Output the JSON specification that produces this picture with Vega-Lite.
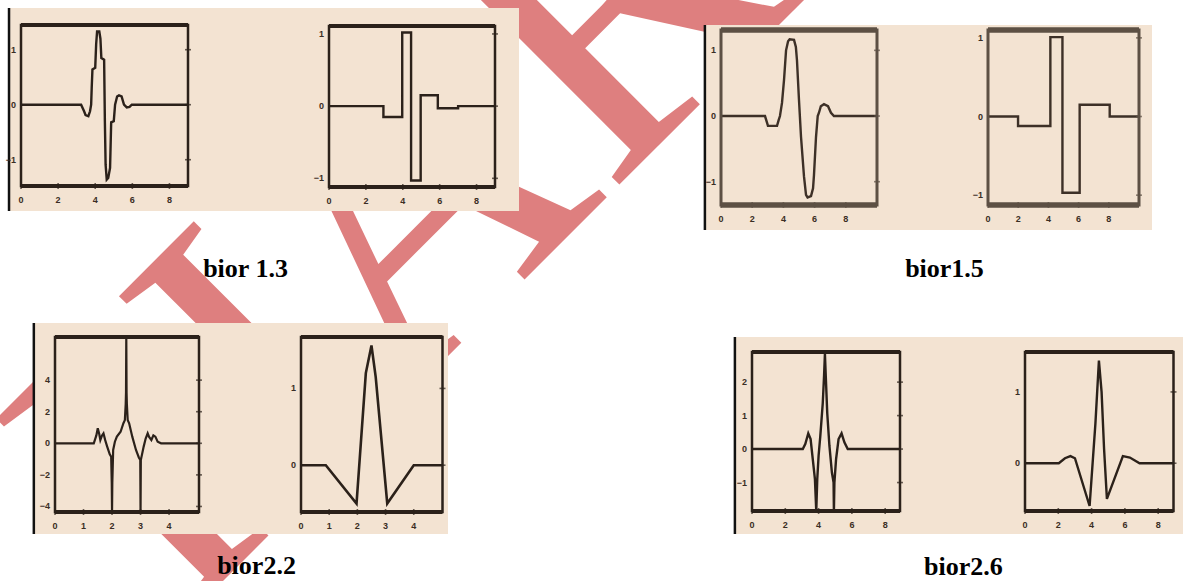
{
  "$schema": "https://vega.github.io/schema/vega-lite/v6.json",
  "width": 1183,
  "height": 581,
  "autosize": {"type": "none"},
  "padding": 0,
  "background": "#ffffff",
  "config": {
    "view": {"stroke": null},
    "text": {"font": "Liberation Sans", "fontSize": 9, "fontWeight": "bold", "color": "#3a2d24"},
    "tick": {"color": "#2b211a", "thickness": 1.6, "size": 6}
  },
  "resolve": {"scale": {"x": "independent", "y": "independent"}},
  "datasets": {
    "xe": [{"v":0},{"v":2},{"v":4},{"v":6},{"v":8}],
    "xi": [{"v":0},{"v":1},{"v":2},{"v":3},{"v":4}],
    "y101": [{"v":-1},{"v":0},{"v":1}],
    "yc1": [{"v":-4},{"v":-2},{"v":0},{"v":2},{"v":4}],
    "y01": [{"v":0},{"v":1}],
    "yd1": [{"v":-1},{"v":0},{"v":1},{"v":2}],
    "a1": [{"t":0,"psi":0},{"t":3.24,"psi":0},{"t":3.4,"psi":-0.12},{"t":3.48,"psi":-0.19},{"t":3.63,"psi":-0.21},{"t":3.72,"psi":-0.12},{"t":3.78,"psi":0},{"t":3.81,"psi":0.3},{"t":3.85,"psi":0.64},{"t":4.0,"psi":0.67},{"t":4.05,"psi":1.1},{"t":4.1,"psi":1.33},{"t":4.22,"psi":1.33},{"t":4.28,"psi":1.2},{"t":4.33,"psi":0.85},{"t":4.48,"psi":0.82},{"t":4.52,"psi":-0.3},{"t":4.56,"psi":-1.09},{"t":4.62,"psi":-1.36},{"t":4.7,"psi":-1.33},{"t":4.8,"psi":-1.15},{"t":4.86,"psi":-0.32},{"t":5.0,"psi":-0.3},{"t":5.07,"psi":0},{"t":5.18,"psi":0.15},{"t":5.28,"psi":0.17},{"t":5.42,"psi":0.15},{"t":5.55,"psi":0},{"t":5.7,"psi":-0.05},{"t":5.85,"psi":-0.04},{"t":5.97,"psi":0},{"t":9,"psi":0}],
    "a2": [{"t":0,"psi":0},{"t":2.95,"psi":-0.15},{"t":3.97,"psi":1.02},{"t":4.45,"psi":-1.03},{"t":4.97,"psi":0.15},{"t":5.9,"psi":-0.03},{"t":7.0,"psi":0},{"t":9,"psi":0}],
    "b1": [{"t":0,"psi":0},{"t":2.82,"psi":0},{"t":2.95,"psi":-0.1},{"t":3.01,"psi":-0.15},{"t":3.59,"psi":-0.15},{"t":3.7,"psi":-0.06},{"t":3.78,"psi":0},{"t":3.91,"psi":0.2},{"t":4.04,"psi":0.55},{"t":4.17,"psi":1.0},{"t":4.3,"psi":1.14},{"t":4.4,"psi":1.17},{"t":4.68,"psi":1.16},{"t":4.8,"psi":1.05},{"t":4.87,"psi":0.85},{"t":5.0,"psi":0.24},{"t":5.13,"psi":-0.32},{"t":5.32,"psi":-0.92},{"t":5.45,"psi":-1.2},{"t":5.55,"psi":-1.24},{"t":5.77,"psi":-1.22},{"t":5.9,"psi":-1.1},{"t":5.96,"psi":-0.9},{"t":6.09,"psi":-0.32},{"t":6.2,"psi":0},{"t":6.28,"psi":0.05},{"t":6.4,"psi":0.15},{"t":6.6,"psi":0.18},{"t":6.86,"psi":0.15},{"t":7.05,"psi":0.05},{"t":7.24,"psi":0},{"t":10,"psi":0}],
    "b2": [{"t":0,"psi":0},{"t":1.99,"psi":-0.12},{"t":4.13,"psi":1.01},{"t":4.93,"psi":-0.97},{"t":6.07,"psi":0.15},{"t":8.06,"psi":0},{"t":10,"psi":0}],
    "c1": [{"t":0,"psi":0},{"t":1.36,"psi":0},{"t":1.45,"psi":0.5},{"t":1.5,"psi":0.95},{"t":1.55,"psi":0.6},{"t":1.59,"psi":0.2},{"t":1.65,"psi":0.5},{"t":1.7,"psi":0.63},{"t":1.76,"psi":0.2},{"t":1.83,"psi":-0.21},{"t":1.92,"psi":-0.7},{"t":1.97,"psi":-0.85},{"t":1.99,"psi":-2.5},{"t":2.0,"psi":-4.35},{"t":2.01,"psi":-2.5},{"t":2.04,"psi":-0.42},{"t":2.1,"psi":0.1},{"t":2.17,"psi":0.42},{"t":2.3,"psi":0.73},{"t":2.4,"psi":1.27},{"t":2.45,"psi":1.47},{"t":2.48,"psi":2.5},{"t":2.49,"psi":3.2},{"t":2.5,"psi":6.73},{"t":2.51,"psi":3.2},{"t":2.52,"psi":2.5},{"t":2.55,"psi":1.47},{"t":2.6,"psi":1.27},{"t":2.71,"psi":0.42},{"t":2.84,"psi":-0.42},{"t":2.94,"psi":-0.9},{"t":2.99,"psi":-1.06},{"t":3.0,"psi":-4.35},{"t":3.01,"psi":-1.06},{"t":3.11,"psi":-0.21},{"t":3.18,"psi":0.3},{"t":3.25,"psi":0.63},{"t":3.3,"psi":0.4},{"t":3.38,"psi":0.21},{"t":3.45,"psi":0.5},{"t":3.52,"psi":0.42},{"t":3.6,"psi":0.1},{"t":3.72,"psi":0},{"t":5.05,"psi":0}],
    "c2": [{"t":0,"psi":0},{"t":0.88,"psi":0},{"t":1.97,"psi":-0.5},{"t":2.3,"psi":1.2},{"t":2.5,"psi":1.56},{"t":2.65,"psi":1.15},{"t":3.06,"psi":-0.5},{"t":4.0,"psi":0},{"t":5.02,"psi":0}],
    "d1": [{"t":0,"psi":0},{"t":3.05,"psi":0},{"t":3.2,"psi":0.15},{"t":3.38,"psi":0.47},{"t":3.52,"psi":0.3},{"t":3.65,"psi":-0.3},{"t":3.78,"psi":-0.9},{"t":3.86,"psi":-1.85},{"t":3.92,"psi":-0.9},{"t":4.0,"psi":-0.2},{"t":4.1,"psi":0.37},{"t":4.25,"psi":1.37},{"t":4.33,"psi":2.2},{"t":4.38,"psi":2.85},{"t":4.43,"psi":2.2},{"t":4.52,"psi":1.07},{"t":4.65,"psi":0.1},{"t":4.8,"psi":-0.7},{"t":4.9,"psi":-1.0},{"t":4.92,"psi":-1.85},{"t":4.95,"psi":-1.0},{"t":5.05,"psi":-0.3},{"t":5.2,"psi":0.3},{"t":5.38,"psi":0.47},{"t":5.55,"psi":0.2},{"t":5.75,"psi":0},{"t":8.89,"psi":0}],
    "d2": [{"t":0,"psi":0},{"t":2.03,"psi":0},{"t":2.4,"psi":0.07},{"t":2.73,"psi":0.1},{"t":3.0,"psi":0.07},{"t":3.88,"psi":-0.6},{"t":4.23,"psi":0.56},{"t":4.44,"psi":1.44},{"t":4.6,"psi":1.0},{"t":4.75,"psi":0.2},{"t":4.92,"psi":-0.5},{"t":5.88,"psi":0.1},{"t":6.3,"psi":0.08},{"t":6.88,"psi":0},{"t":8.92,"psi":0}]
  },
  "layer": [
    {
      "layer": [
        {"data": {"values": [{"mark": "IJARIIE"}]},
         "mark": {"type": "text", "font": "Liberation Serif", "fontSize": 420, "fontWeight": "normal", "angle": -45, "align": "left", "baseline": "alphabetic", "color": "#DE7F7F"},
         "encoding": {"text": {"field": "mark"},
           "x": {"datum": 0.3366, "scale": {"domain": [0, 1], "range": [8, 519], "nice": false, "zero": false}, "axis": null},
           "y": {"datum": -2.0345, "scale": {"domain": [0, 1], "range": [211, 8], "nice": false, "zero": false}, "axis": null}}},
        {"data": {"values": [{"caption": "bior 1.3"}]},
         "mark": {"type": "rect", "color": "#F3E3D2"},
         "encoding": {"x": {"datum": 0, "axis": null}, "x2": {"datum": 1}, "y": {"datum": 0, "axis": null}, "y2": {"datum": 1}}},
        {"data": {"values": [{"caption": "bior 1.3"}]},
         "mark": {"type": "rule", "color": "#111111", "strokeWidth": 2.5},
         "encoding": {"x": {"datum": 0.002, "axis": null}, "y": {"datum": 0, "axis": null}, "y2": {"datum": 1}}},
        {"data": {"values": [{"caption": "bior 1.3"}]},
         "mark": {"type": "text", "font": "Liberation Serif", "fontSize": 26, "fontWeight": "bold", "align": "center", "baseline": "alphabetic", "color": "#000000"},
         "encoding": {"text": {"field": "caption"}, "x": {"datum": 0.4648, "axis": null}, "y": {"datum": -0.3236, "axis": null}}}
      ]
    },
    {
      "data": {"values": [{"caption": "bior1.5"}]},
      "layer": [
        {"mark": {"type": "rect", "color": "#F3E3D2"},
         "encoding": {"x": {"datum": 0, "scale": {"domain": [0, 1], "range": [704, 1152], "nice": false, "zero": false}, "axis": null}, "x2": {"datum": 1},
           "y": {"datum": 0, "scale": {"domain": [0, 1], "range": [230, 25], "nice": false, "zero": false}, "axis": null}, "y2": {"datum": 1}}},
        {"mark": {"type": "rule", "color": "#111111", "strokeWidth": 2.5},
         "encoding": {"x": {"datum": 0.002, "axis": null}, "y": {"datum": 0, "axis": null}, "y2": {"datum": 1}}},
        {"mark": {"type": "text", "font": "Liberation Serif", "fontSize": 26, "fontWeight": "bold", "align": "center", "baseline": "alphabetic", "color": "#000000"},
         "encoding": {"text": {"field": "caption"}, "x": {"datum": 0.5368, "axis": null}, "y": {"datum": -0.2278, "axis": null}}}
      ]
    },
    {
      "data": {"values": [{"caption": "bior2.2"}]},
      "layer": [
        {"mark": {"type": "rect", "color": "#F3E3D2"},
         "encoding": {"x": {"datum": 0, "scale": {"domain": [0, 1], "range": [33, 448], "nice": false, "zero": false}, "axis": null}, "x2": {"datum": 1},
           "y": {"datum": 0, "scale": {"domain": [0, 1], "range": [534, 323], "nice": false, "zero": false}, "axis": null}, "y2": {"datum": 1}}},
        {"mark": {"type": "rule", "color": "#111111", "strokeWidth": 2.5},
         "encoding": {"x": {"datum": 0.002, "axis": null}, "y": {"datum": 0, "axis": null}, "y2": {"datum": 1}}},
        {"mark": {"type": "text", "font": "Liberation Serif", "fontSize": 26, "fontWeight": "bold", "align": "center", "baseline": "alphabetic", "color": "#000000"},
         "encoding": {"text": {"field": "caption"}, "x": {"datum": 0.5386, "axis": null}, "y": {"datum": -0.1896, "axis": null}}}
      ]
    },
    {
      "data": {"values": [{"caption": "bior2.6"}]},
      "layer": [
        {"mark": {"type": "rect", "color": "#F3E3D2"},
         "encoding": {"x": {"datum": 0, "scale": {"domain": [0, 1], "range": [734, 1183], "nice": false, "zero": false}, "axis": null}, "x2": {"datum": 1},
           "y": {"datum": 0, "scale": {"domain": [0, 1], "range": [534, 337], "nice": false, "zero": false}, "axis": null}, "y2": {"datum": 1}}},
        {"mark": {"type": "rule", "color": "#111111", "strokeWidth": 2.5},
         "encoding": {"x": {"datum": 0.002, "axis": null}, "y": {"datum": 0, "axis": null}, "y2": {"datum": 1}}},
        {"mark": {"type": "text", "font": "Liberation Serif", "fontSize": 26, "fontWeight": "bold", "align": "center", "baseline": "alphabetic", "color": "#000000"},
         "encoding": {"text": {"field": "caption"}, "x": {"datum": 0.5111, "axis": null}, "y": {"datum": -0.2081, "axis": null}}}
      ]
    },
    {
      "layer": [
        {"data": {"name": "a1"}, "mark": {"type": "line", "color": "#2b211a", "strokeWidth": 2.4},
         "encoding": {
           "x": {"field": "t", "type": "quantitative", "scale": {"domain": [0, 9], "range": [21, 188], "nice": false, "zero": false}, "axis": null},
           "y": {"field": "psi", "type": "quantitative", "scale": {"domain": [-1.478, 1.449], "range": [186, 25], "nice": false, "zero": false}, "axis": null}}},
        {"data": {"values": [{}]}, "mark": {"type": "rect", "fill": null, "stroke": "#2b211a", "strokeWidth": 2.5},
         "encoding": {"x": {"datum": 0, "axis": null}, "x2": {"datum": 9}, "y": {"datum": -1.478, "axis": null}, "y2": {"datum": 1.449}}},
        {"data": {"values": [{"edge": -1.478}, {"edge": 1.449}]}, "mark": {"type": "rule", "color": "#2b211a", "strokeWidth": 4},
         "encoding": {"x": {"datum": 0, "axis": null}, "x2": {"datum": 9}, "y": {"field": "edge", "type": "quantitative", "axis": null}}},
        {"data": {"name": "xe"}, "mark": {"type": "tick", "orient": "vertical"},
         "encoding": {"x": {"field": "v", "type": "quantitative", "axis": null}, "y": {"datum": -1.478, "axis": null}}},
        {"data": {"name": "y101"}, "mark": {"type": "tick", "orient": "horizontal"},
         "encoding": {"y": {"field": "v", "type": "quantitative", "axis": null}, "x": {"datum": 9, "axis": null}}},
        {"data": {"name": "xe"}, "mark": {"type": "text", "dy": 14, "baseline": "middle", "align": "center"},
         "encoding": {"x": {"field": "v", "type": "quantitative", "axis": null}, "y": {"datum": -1.478, "axis": null}, "text": {"field": "v", "type": "quantitative"}}},
        {"data": {"name": "y101"}, "mark": {"type": "text", "dx": -5, "baseline": "middle", "align": "right"},
         "encoding": {"y": {"field": "v", "type": "quantitative", "axis": null}, "x": {"datum": 0, "axis": null}, "text": {"field": "v", "type": "quantitative"}}}
      ]
    },
    {
      "layer": [
        {"data": {"name": "a2"}, "mark": {"type": "line", "color": "#2b211a", "strokeWidth": 2.4, "interpolate": "step-after"},
         "encoding": {
           "x": {"field": "t", "type": "quantitative", "scale": {"domain": [0, 9], "range": [329, 495], "nice": false, "zero": false}, "axis": null},
           "y": {"field": "psi", "type": "quantitative", "scale": {"domain": [-1.12, 1.11], "range": [187, 26], "nice": false, "zero": false}, "axis": null}}},
        {"data": {"values": [{}]}, "mark": {"type": "rect", "fill": null, "stroke": "#2b211a", "strokeWidth": 2.5},
         "encoding": {"x": {"datum": 0, "axis": null}, "x2": {"datum": 9}, "y": {"datum": -1.12, "axis": null}, "y2": {"datum": 1.11}}},
        {"data": {"values": [{"edge": -1.12}, {"edge": 1.11}]}, "mark": {"type": "rule", "color": "#2b211a", "strokeWidth": 4},
         "encoding": {"x": {"datum": 0, "axis": null}, "x2": {"datum": 9}, "y": {"field": "edge", "type": "quantitative", "axis": null}}},
        {"data": {"name": "xe"}, "mark": {"type": "tick", "orient": "vertical"},
         "encoding": {"x": {"field": "v", "type": "quantitative", "axis": null}, "y": {"datum": -1.12, "axis": null}}},
        {"data": {"name": "y101"}, "mark": {"type": "tick", "orient": "horizontal"},
         "encoding": {"y": {"field": "v", "type": "quantitative", "axis": null}, "x": {"datum": 9, "axis": null}}},
        {"data": {"name": "xe"}, "mark": {"type": "text", "dy": 14, "baseline": "middle", "align": "center"},
         "encoding": {"x": {"field": "v", "type": "quantitative", "axis": null}, "y": {"datum": -1.12, "axis": null}, "text": {"field": "v", "type": "quantitative"}}},
        {"data": {"name": "y101"}, "mark": {"type": "text", "dx": -5, "baseline": "middle", "align": "right"},
         "encoding": {"y": {"field": "v", "type": "quantitative", "axis": null}, "x": {"datum": 0, "axis": null}, "text": {"field": "v", "type": "quantitative"}}}
      ]
    },
    {
      "layer": [
        {"data": {"name": "b1"}, "mark": {"type": "line", "color": "#3d3027", "strokeWidth": 2.4},
         "encoding": {
           "x": {"field": "t", "type": "quantitative", "scale": {"domain": [0, 10], "range": [721, 877], "nice": false, "zero": false}, "axis": null},
           "y": {"field": "psi", "type": "quantitative", "scale": {"domain": [-1.355, 1.31], "range": [205, 30], "nice": false, "zero": false}, "axis": null}}},
        {"data": {"values": [{}]}, "mark": {"type": "rect", "fill": null, "stroke": "#5d5044", "strokeWidth": 3},
         "encoding": {"x": {"datum": 0, "axis": null}, "x2": {"datum": 10}, "y": {"datum": -1.355, "axis": null}, "y2": {"datum": 1.31}}},
        {"data": {"values": [{"edge": -1.355}, {"edge": 1.31}]}, "mark": {"type": "rule", "color": "#5d5044", "strokeWidth": 5.5},
         "encoding": {"x": {"datum": 0, "axis": null}, "x2": {"datum": 10}, "y": {"field": "edge", "type": "quantitative", "axis": null}}},
        {"data": {"name": "xe"}, "mark": {"type": "tick", "orient": "vertical", "color": "#5d5044"},
         "encoding": {"x": {"field": "v", "type": "quantitative", "axis": null}, "y": {"datum": -1.355, "axis": null}}},
        {"data": {"name": "y101"}, "mark": {"type": "tick", "orient": "horizontal", "color": "#5d5044"},
         "encoding": {"y": {"field": "v", "type": "quantitative", "axis": null}, "x": {"datum": 10, "axis": null}}},
        {"data": {"name": "xe"}, "mark": {"type": "text", "dy": 14, "baseline": "middle", "align": "center"},
         "encoding": {"x": {"field": "v", "type": "quantitative", "axis": null}, "y": {"datum": -1.355, "axis": null}, "text": {"field": "v", "type": "quantitative"}}},
        {"data": {"name": "y101"}, "mark": {"type": "text", "dx": -5, "baseline": "middle", "align": "right"},
         "encoding": {"y": {"field": "v", "type": "quantitative", "axis": null}, "x": {"datum": 0, "axis": null}, "text": {"field": "v", "type": "quantitative"}}}
      ]
    },
    {
      "layer": [
        {"data": {"name": "b2"}, "mark": {"type": "line", "color": "#3d3027", "strokeWidth": 2.4, "interpolate": "step-after"},
         "encoding": {
           "x": {"field": "t", "type": "quantitative", "scale": {"domain": [0, 10], "range": [988, 1139], "nice": false, "zero": false}, "axis": null},
           "y": {"field": "psi", "type": "quantitative", "scale": {"domain": [-1.125, 1.1], "range": [205, 30], "nice": false, "zero": false}, "axis": null}}},
        {"data": {"values": [{}]}, "mark": {"type": "rect", "fill": null, "stroke": "#5d5044", "strokeWidth": 3},
         "encoding": {"x": {"datum": 0, "axis": null}, "x2": {"datum": 10}, "y": {"datum": -1.125, "axis": null}, "y2": {"datum": 1.1}}},
        {"data": {"values": [{"edge": -1.125}, {"edge": 1.1}]}, "mark": {"type": "rule", "color": "#5d5044", "strokeWidth": 5.5},
         "encoding": {"x": {"datum": 0, "axis": null}, "x2": {"datum": 10}, "y": {"field": "edge", "type": "quantitative", "axis": null}}},
        {"data": {"name": "xe"}, "mark": {"type": "tick", "orient": "vertical", "color": "#5d5044"},
         "encoding": {"x": {"field": "v", "type": "quantitative", "axis": null}, "y": {"datum": -1.125, "axis": null}}},
        {"data": {"name": "y101"}, "mark": {"type": "tick", "orient": "horizontal", "color": "#5d5044"},
         "encoding": {"y": {"field": "v", "type": "quantitative", "axis": null}, "x": {"datum": 10, "axis": null}}},
        {"data": {"name": "xe"}, "mark": {"type": "text", "dy": 14, "baseline": "middle", "align": "center"},
         "encoding": {"x": {"field": "v", "type": "quantitative", "axis": null}, "y": {"datum": -1.125, "axis": null}, "text": {"field": "v", "type": "quantitative"}}},
        {"data": {"name": "y101"}, "mark": {"type": "text", "dx": -5, "baseline": "middle", "align": "right"},
         "encoding": {"y": {"field": "v", "type": "quantitative", "axis": null}, "x": {"datum": 0, "axis": null}, "text": {"field": "v", "type": "quantitative"}}}
      ]
    },
    {
      "layer": [
        {"data": {"name": "c1"}, "mark": {"type": "line", "color": "#2b211a", "strokeWidth": 2.2},
         "encoding": {
           "x": {"field": "t", "type": "quantitative", "scale": {"domain": [0, 5.05], "range": [55, 199], "nice": false, "zero": false}, "axis": null},
           "y": {"field": "psi", "type": "quantitative", "scale": {"domain": [-4.35, 6.73], "range": [512, 337], "nice": false, "zero": false}, "axis": null}}},
        {"data": {"values": [{}]}, "mark": {"type": "rect", "fill": null, "stroke": "#2b211a", "strokeWidth": 2.5},
         "encoding": {"x": {"datum": 0, "axis": null}, "x2": {"datum": 5.05}, "y": {"datum": -4.35, "axis": null}, "y2": {"datum": 6.73}}},
        {"data": {"values": [{"edge": -4.35}, {"edge": 6.73}]}, "mark": {"type": "rule", "color": "#2b211a", "strokeWidth": 4},
         "encoding": {"x": {"datum": 0, "axis": null}, "x2": {"datum": 5.05}, "y": {"field": "edge", "type": "quantitative", "axis": null}}},
        {"data": {"name": "xi"}, "mark": {"type": "tick", "orient": "vertical"},
         "encoding": {"x": {"field": "v", "type": "quantitative", "axis": null}, "y": {"datum": -4.35, "axis": null}}},
        {"data": {"name": "yc1"}, "mark": {"type": "tick", "orient": "horizontal"},
         "encoding": {"y": {"field": "v", "type": "quantitative", "axis": null}, "x": {"datum": 5.05, "axis": null}}},
        {"data": {"name": "xi"}, "mark": {"type": "text", "dy": 14, "baseline": "middle", "align": "center"},
         "encoding": {"x": {"field": "v", "type": "quantitative", "axis": null}, "y": {"datum": -4.35, "axis": null}, "text": {"field": "v", "type": "quantitative"}}},
        {"data": {"name": "yc1"}, "mark": {"type": "text", "dx": -5, "baseline": "middle", "align": "right"},
         "encoding": {"y": {"field": "v", "type": "quantitative", "axis": null}, "x": {"datum": 0, "axis": null}, "text": {"field": "v", "type": "quantitative"}}}
      ]
    },
    {
      "layer": [
        {"data": {"name": "c2"}, "mark": {"type": "line", "color": "#2b211a", "strokeWidth": 2.6},
         "encoding": {
           "x": {"field": "t", "type": "quantitative", "scale": {"domain": [0, 5.02], "range": [301, 442.5], "nice": false, "zero": false}, "axis": null},
           "y": {"field": "psi", "type": "quantitative", "scale": {"domain": [-0.61, 1.67], "range": [512, 337], "nice": false, "zero": false}, "axis": null}}},
        {"data": {"values": [{}]}, "mark": {"type": "rect", "fill": null, "stroke": "#2b211a", "strokeWidth": 2.5},
         "encoding": {"x": {"datum": 0, "axis": null}, "x2": {"datum": 5.02}, "y": {"datum": -0.61, "axis": null}, "y2": {"datum": 1.67}}},
        {"data": {"values": [{"edge": -0.61}, {"edge": 1.67}]}, "mark": {"type": "rule", "color": "#2b211a", "strokeWidth": 4},
         "encoding": {"x": {"datum": 0, "axis": null}, "x2": {"datum": 5.02}, "y": {"field": "edge", "type": "quantitative", "axis": null}}},
        {"data": {"name": "xi"}, "mark": {"type": "tick", "orient": "vertical"},
         "encoding": {"x": {"field": "v", "type": "quantitative", "axis": null}, "y": {"datum": -0.61, "axis": null}}},
        {"data": {"name": "y01"}, "mark": {"type": "tick", "orient": "horizontal"},
         "encoding": {"y": {"field": "v", "type": "quantitative", "axis": null}, "x": {"datum": 5.02, "axis": null}}},
        {"data": {"name": "xi"}, "mark": {"type": "text", "dy": 14, "baseline": "middle", "align": "center"},
         "encoding": {"x": {"field": "v", "type": "quantitative", "axis": null}, "y": {"datum": -0.61, "axis": null}, "text": {"field": "v", "type": "quantitative"}}},
        {"data": {"name": "y01"}, "mark": {"type": "text", "dx": -5, "baseline": "middle", "align": "right"},
         "encoding": {"y": {"field": "v", "type": "quantitative", "axis": null}, "x": {"datum": 0, "axis": null}, "text": {"field": "v", "type": "quantitative"}}}
      ]
    },
    {
      "layer": [
        {"data": {"name": "d1"}, "mark": {"type": "line", "color": "#2b211a", "strokeWidth": 2.4},
         "encoding": {
           "x": {"field": "t", "type": "quantitative", "scale": {"domain": [0, 8.89], "range": [752, 900], "nice": false, "zero": false}, "axis": null},
           "y": {"field": "psi", "type": "quantitative", "scale": {"domain": [-1.85, 2.9], "range": [511, 352], "nice": false, "zero": false}, "axis": null}}},
        {"data": {"values": [{}]}, "mark": {"type": "rect", "fill": null, "stroke": "#2b211a", "strokeWidth": 2.5},
         "encoding": {"x": {"datum": 0, "axis": null}, "x2": {"datum": 8.89}, "y": {"datum": -1.85, "axis": null}, "y2": {"datum": 2.9}}},
        {"data": {"values": [{"edge": -1.85}, {"edge": 2.9}]}, "mark": {"type": "rule", "color": "#2b211a", "strokeWidth": 4},
         "encoding": {"x": {"datum": 0, "axis": null}, "x2": {"datum": 8.89}, "y": {"field": "edge", "type": "quantitative", "axis": null}}},
        {"data": {"name": "xe"}, "mark": {"type": "tick", "orient": "vertical"},
         "encoding": {"x": {"field": "v", "type": "quantitative", "axis": null}, "y": {"datum": -1.85, "axis": null}}},
        {"data": {"name": "yd1"}, "mark": {"type": "tick", "orient": "horizontal"},
         "encoding": {"y": {"field": "v", "type": "quantitative", "axis": null}, "x": {"datum": 8.89, "axis": null}}},
        {"data": {"name": "xe"}, "mark": {"type": "text", "dy": 14, "baseline": "middle", "align": "center"},
         "encoding": {"x": {"field": "v", "type": "quantitative", "axis": null}, "y": {"datum": -1.85, "axis": null}, "text": {"field": "v", "type": "quantitative"}}},
        {"data": {"name": "yd1"}, "mark": {"type": "text", "dx": -5, "baseline": "middle", "align": "right"},
         "encoding": {"y": {"field": "v", "type": "quantitative", "axis": null}, "x": {"datum": 0, "axis": null}, "text": {"field": "v", "type": "quantitative"}}}
      ]
    },
    {
      "layer": [
        {"data": {"name": "d2"}, "mark": {"type": "line", "color": "#2b211a", "strokeWidth": 2.4},
         "encoding": {
           "x": {"field": "t", "type": "quantitative", "scale": {"domain": [0, 8.92], "range": [1025, 1173.5], "nice": false, "zero": false}, "axis": null},
           "y": {"field": "psi", "type": "quantitative", "scale": {"domain": [-0.67, 1.56], "range": [511, 352], "nice": false, "zero": false}, "axis": null}}},
        {"data": {"values": [{}]}, "mark": {"type": "rect", "fill": null, "stroke": "#2b211a", "strokeWidth": 2.5},
         "encoding": {"x": {"datum": 0, "axis": null}, "x2": {"datum": 8.92}, "y": {"datum": -0.67, "axis": null}, "y2": {"datum": 1.56}}},
        {"data": {"values": [{"edge": -0.67}, {"edge": 1.56}]}, "mark": {"type": "rule", "color": "#2b211a", "strokeWidth": 4},
         "encoding": {"x": {"datum": 0, "axis": null}, "x2": {"datum": 8.92}, "y": {"field": "edge", "type": "quantitative", "axis": null}}},
        {"data": {"name": "xe"}, "mark": {"type": "tick", "orient": "vertical"},
         "encoding": {"x": {"field": "v", "type": "quantitative", "axis": null}, "y": {"datum": -0.67, "axis": null}}},
        {"data": {"name": "y01"}, "mark": {"type": "tick", "orient": "horizontal"},
         "encoding": {"y": {"field": "v", "type": "quantitative", "axis": null}, "x": {"datum": 8.92, "axis": null}}},
        {"data": {"name": "xe"}, "mark": {"type": "text", "dy": 14, "baseline": "middle", "align": "center"},
         "encoding": {"x": {"field": "v", "type": "quantitative", "axis": null}, "y": {"datum": -0.67, "axis": null}, "text": {"field": "v", "type": "quantitative"}}},
        {"data": {"name": "y01"}, "mark": {"type": "text", "dx": -5, "baseline": "middle", "align": "right"},
         "encoding": {"y": {"field": "v", "type": "quantitative", "axis": null}, "x": {"datum": 0, "axis": null}, "text": {"field": "v", "type": "quantitative"}}}
      ]
    }
  ]
}
